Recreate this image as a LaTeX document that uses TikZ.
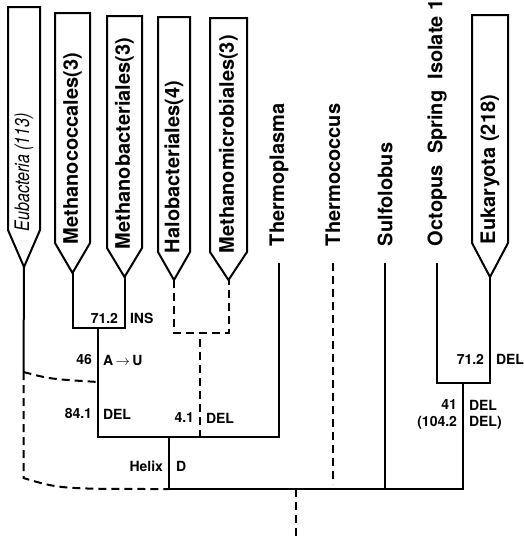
\documentclass[tikz,border=0pt]{standalone}
\usepackage{fontspec}
\setmainfont{TeX Gyre Heros}
\newfontfamily\condfont[FakeStretch=0.8]{TeX Gyre Heros}
\usetikzlibrary{positioning}

\newcommand{\pennant}[7]{%
  \draw[flag] (#2,#4) -- (#2,#5) -- ({(#2+#3)/2},#6) coordinate (#1-tip) -- (#3,#5) -- (#3,#4) -- cycle;
  \node[taxon] (#1) at ({(#2+#3)/2},#5+2) {#7};}

\begin{document}
\begin{tikzpicture}[
    x=1pt, y=-1pt,
    line width=2pt,
    flag/.style={draw, line join=miter},
    taxon/.style={rotate=90, anchor=west, inner sep=0pt, font=\fontsize{20}{24}\selectfont\bfseries},
    gap/.style={dash pattern=on 8pt off 5pt},
    lbl/.style={inner sep=0pt, font=\fontsize{14}{16}\selectfont\bfseries}
]
\useasboundingbox (0,0) rectangle (523,546);
\pennant{eub}{8}{40}{7}{230}{267}{\condfont\mdseries\itshape Eubacteria (113)}
\pennant{mcoc}{55}{90}{13}{243}{273}{Methanococcales(3)}
\pennant{mbac}{107}{142}{16}{248}{277}{Methanobacteriales(3)}
\pennant{halo}{158}{190}{17}{252}{280}{Halobacteriales(4)}
\pennant{mmic}{210}{247}{18}{252}{280}{Methanomicrobiales(3)}
\pennant{euk}{472}{508}{15}{243}{277}{Eukaryota (218)}
\node[taxon] (tpl) at (279,247) {Thermoplasma};
\node[taxon] (tcoc) at (333,247) {Thermococcus};
\node[taxon] (sulf) at (385,247) {Sulfolobus};
\node[taxon] (oct) at (437,247) {Octopus\ \ Spring\ \ Isolate 1};

\coordinate (tpl-top) at (279,263);
\coordinate (tcoc-top) at (333,263);
\coordinate (sulf-top) at (385,263);
\coordinate (oct-top) at (437,263);
\coordinate (meth-u) at (98,328);
\coordinate (meth-c) at (98,382);
\coordinate (meth-st) at (98,437);
\coordinate (halo-u) at (200,333);
\coordinate (eub-a) at (23.5,372);
\coordinate (eub-b) at (23.5,478);
\coordinate (arch-a) at (169,437);
\coordinate (root) at (296,489);
\coordinate (euk-u) at (463,383);
\coordinate (euk-st) at (463,489);
\coordinate (origin) at (296,540);

\draw (mcoc-tip) |- (meth-u) -| (mbac-tip);
\draw (meth-u) -- (meth-st) -| (tpl-top);
\draw[gap] (halo-tip) |- (halo-u) -| (mmic-tip);
\draw[gap, shorten <=6pt] (halo-u) -- (halo-u |- meth-st);
\draw (arch-a) |- (euk-st) -- (euk-u);
\draw (oct-top) |- (euk-u) -| (euk-tip);
\draw (sulf-top) -- (sulf-top |- root);
\draw[gap, shorten >=5pt] (tcoc-top) -- (tcoc-top |- root);
\draw[gap] (root) -- (origin);
\draw (eub-tip) -- (eub-a);
\draw[gap] (eub-a) .. controls (50,379) .. (meth-c);
\draw[gap] (eub-a) -- (eub-b) .. controls (60,489) .. (arch-a |- root);

\node[lbl, anchor=east] (ins-pos) at (119,318) {71.2};
\node[lbl, anchor=west] (ins) at (129,318) {INS};
\node[lbl, anchor=east] (au-pos) at (93,359) {46};
\node[lbl, anchor=west] (au) at (102,360) {A$\,\rightarrow\,$U};
\node[lbl, anchor=east] (del-pos) at (93,413) {84.1};
\node[lbl, anchor=west] (del) at (102,414) {DEL};
\node[lbl, anchor=east] (hdel-pos) at (195,418) {4.1};
\node[lbl, anchor=west] (hdel) at (205,418) {DEL};
\node[lbl, anchor=east] (helix) at (164,466) {Helix};
\node[lbl, anchor=west] (helix-d) at (175,466) {D};
\node[lbl, anchor=east] (edel-pos) at (485,359) {71.2};
\node[lbl, anchor=west] (edel) at (495,359) {DEL};
\node[lbl, anchor=east] (odel-pos) at (458,405) {41};
\node[lbl, anchor=west] (odel) at (468,405) {DEL};
\node[lbl, anchor=east] (odel-alt-pos) at (458,423) {(104.2};
\node[lbl, anchor=west] (odel-alt) at (468,423) {DEL)};
\end{tikzpicture}
\end{document}
